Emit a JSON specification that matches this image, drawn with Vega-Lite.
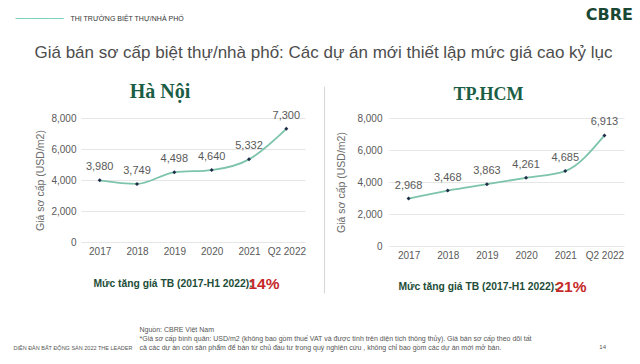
{
  "$schema": "https://vega.github.io/schema/vega-lite/v6.json",
  "background": "white",
  "padding": {"left": 13, "top": 6, "right": 5, "bottom": 0},
  "config": {
    "font": "Liberation Sans",
    "view": {"stroke": null},
    "axis": {"labelFont": "Liberation Sans", "titleFont": "Liberation Sans"}
  },
  "title": {"text": "DIỄN ĐÀN BẤT ĐỘNG SẢN 2022 THE LEADER", "orient": "bottom", "anchor": "start", "frame": "bounds", "fontSize": 5.5, "fontWeight": "normal", "color": "#555555", "dx": -2, "offset": -5},
  "vconcat": [{
    "title": {"text": "14", "orient": "bottom", "anchor": "end", "frame": "bounds", "fontSize": 6, "fontWeight": "normal", "color": "#555555", "dx": -27, "offset": -7},
    "vconcat": [{
      "title": {"text": ["Nguồn: CBRE Việt Nam", "*Giá sơ cấp bình quân: USD/m2 (không bao gồm thuế VAT và được tính trên diện tích thông thủy). Giá bán sơ cấp theo dõi tất", "cả các dự án còn sản phẩm để bán từ chủ đầu tư trong quý nghiên cứu , không chỉ bao gồm các dự án mới mở bán."], "orient": "bottom", "anchor": "start", "frame": "bounds", "fontSize": 7, "lineHeight": 9.2, "fontWeight": "normal", "color": "#555555", "dx": 124, "offset": 1},
      "vconcat": [{
        "title": {"text": "CBRE", "orient": "top", "anchor": "end", "frame": "bounds", "font": "DejaVu Sans", "fontSize": 16, "fontWeight": "bold", "color": "#1a4734", "dx": 9, "offset": -8},
        "vconcat": [{
          "title": {"text": "THỊ TRƯỜNG BIỆT THỰ/NHÀ PHỐ", "orient": "top", "anchor": "start", "frame": "bounds", "fontSize": 7, "fontWeight": "normal", "color": "#333333", "dx": 55, "offset": -7},
          "vconcat": [{
            "title": {"text": "──────────", "orient": "top", "anchor": "start", "frame": "bounds", "font": "DejaVu Sans", "fontSize": 8, "fontWeight": "normal", "color": "#49c3a5", "dx": -19, "offset": 21},
            "vconcat": [{
              "title": {"text": "Giá bán sơ cấp biệt thự/nhà phố: Các dự án mới thiết lập mức giá cao kỷ lục", "orient": "top", "anchor": "middle", "frame": "bounds", "fontSize": 17, "fontWeight": "normal", "color": "#4d4d4d", "dx": -6.5, "offset": 20},
              "spacing": 18,
              "hconcat": [
                {
                  "width": 224,
                  "height": 124,
                  "title": {"text": "Hà Nội", "font": "Liberation Serif", "fontSize": 20, "fontWeight": "bold", "color": "#1b5e45", "anchor": "middle", "frame": "group", "dx": -33, "offset": 8},
                  "data": {"values": [
                    {"period": "2017", "price": 3980},
                    {"period": "2018", "price": 3749},
                    {"period": "2019", "price": 4498},
                    {"period": "2020", "price": 4640},
                    {"period": "2021", "price": 5332},
                    {"period": "Q2 2022", "price": 7300}
                  ]},
                  "layer": [
                    {
                      "mark": {"type": "line", "interpolate": "monotone", "color": "#7dc4ab", "strokeWidth": 1.8},
                      "encoding": {
                        "x": {"field": "period", "type": "ordinal", "sort": null, "axis": {"orient": "bottom", "domain": false, "ticks": false, "grid": false, "labelAngle": 0, "labelColor": "#595959", "labelFontSize": 10, "labelPadding": 4, "title": "Mức tăng giá TB (2017-H1 2022):", "titleColor": "#1d4d38", "titleFontSize": 10.3, "titleFontWeight": "bold", "titleX": 12, "titleY": 41, "titleAlign": "left", "titleBaseline": "middle", "titleAnchor": null}},
                        "y": {"field": "price", "type": "quantitative", "scale": {"domain": [0, 8000]}, "axis": {"values": [0, 2000, 4000, 6000, 8000], "format": ",.0f", "labelOverlap": false, "domain": false, "ticks": false, "gridColor": "#e6e6e6", "labelColor": "#595959", "labelFontSize": 10, "labelPadding": 5, "title": "Giá sơ cấp (USD/m2)", "titleColor": "#6b6b6b", "titleFontSize": 10.5, "titleFontWeight": "normal", "titlePadding": 5}}
                      }
                    },
                    {
                      "mark": {"type": "point", "shape": "diamond", "filled": true, "color": "#1f2d4a", "size": 16, "opacity": 1},
                      "encoding": {
                        "x": {"field": "period", "type": "ordinal", "sort": null, "axis": null},
                        "y": {"field": "price", "type": "quantitative", "scale": {"domain": [0, 8000]}, "axis": null}
                      }
                    },
                    {
                      "mark": {"type": "text", "dy": -13, "fontSize": 11, "color": "#595959"},
                      "encoding": {
                        "x": {"field": "period", "type": "ordinal", "sort": null, "axis": {"orient": "bottom", "labels": false, "ticks": false, "domain": false, "grid": false, "title": "14%", "titleColor": "#c62828", "titleFontSize": 15.5, "titleFontWeight": "bold", "titleX": 167, "titleY": 41, "titleAlign": "left", "titleBaseline": "middle", "titleAnchor": null}},
                        "y": {"field": "price", "type": "quantitative", "scale": {"domain": [0, 8000]}, "axis": null},
                        "text": {"field": "price", "type": "quantitative", "format": ","}
                      }
                    }
                  ],
                  "resolve": {"scale": {"x": "independent", "y": "independent"}, "axis": {"x": "independent", "y": "independent"}}
                },
                {
                  "width": 235,
                  "height": 128,
                  "title": {"text": "TP.HCM", "font": "Liberation Serif", "fontSize": 18, "fontWeight": "bold", "color": "#1b5e45", "anchor": "middle", "frame": "group", "dx": -18, "offset": 7},
                  "data": {"values": [
                    {"period": "2017", "price": 2968},
                    {"period": "2018", "price": 3468},
                    {"period": "2019", "price": 3863},
                    {"period": "2020", "price": 4261},
                    {"period": "2021", "price": 4685},
                    {"period": "Q2 2022", "price": 6913}
                  ]},
                  "layer": [
                    {
                      "mark": {"type": "line", "interpolate": "monotone", "color": "#7dc4ab", "strokeWidth": 1.8},
                      "encoding": {
                        "x": {"field": "period", "type": "ordinal", "sort": null, "axis": {"orient": "bottom", "domain": false, "ticks": false, "grid": false, "labelAngle": 0, "labelColor": "#595959", "labelFontSize": 10, "labelPadding": 4, "title": "Mức tăng giá TB (2017-H1 2022):", "titleColor": "#1d4d38", "titleFontSize": 10.3, "titleFontWeight": "bold", "titleX": 9, "titleY": 40, "titleAlign": "left", "titleBaseline": "middle", "titleAnchor": null}},
                        "y": {"field": "price", "type": "quantitative", "scale": {"domain": [0, 8000]}, "axis": {"values": [0, 2000, 4000, 6000, 8000], "format": ",.0f", "labelOverlap": false, "domain": false, "ticks": false, "gridColor": "#e6e6e6", "labelColor": "#595959", "labelFontSize": 10, "labelPadding": 7, "title": "Giá sơ cấp (USD/m2)", "titleColor": "#6b6b6b", "titleFontSize": 10.5, "titleFontWeight": "normal", "titlePadding": 10}}
                      }
                    },
                    {
                      "mark": {"type": "point", "shape": "diamond", "filled": true, "color": "#1f2d4a", "size": 16, "opacity": 1},
                      "encoding": {
                        "x": {"field": "period", "type": "ordinal", "sort": null, "axis": null},
                        "y": {"field": "price", "type": "quantitative", "scale": {"domain": [0, 8000]}, "axis": null}
                      }
                    },
                    {
                      "mark": {"type": "text", "dy": -13, "fontSize": 11, "color": "#595959"},
                      "encoding": {
                        "x": {"field": "period", "type": "ordinal", "sort": null, "axis": {"orient": "bottom", "labels": false, "ticks": false, "domain": false, "grid": false, "title": "21%", "titleColor": "#c62828", "titleFontSize": 15.5, "titleFontWeight": "bold", "titleX": 166, "titleY": 40, "titleAlign": "left", "titleBaseline": "middle", "titleAnchor": null}},
                        "y": {"field": "price", "type": "quantitative", "scale": {"domain": [0, 8000]}, "axis": null},
                        "text": {"field": "price", "type": "quantitative", "format": ","}
                      }
                    },
                    {
                      "mark": {"type": "point", "opacity": 0},
                      "encoding": {
                        "y": {"field": "price", "type": "quantitative", "scale": {"domain": [0, 8000], "range": [175, -32]}, "axis": {"orient": "left", "offset": 65, "domain": true, "domainColor": "#d9d9d9", "domainWidth": 1.2, "labels": false, "ticks": false, "grid": false, "title": null}}
                      }
                    }
                  ],
                  "resolve": {"scale": {"x": "independent", "y": "independent"}, "axis": {"x": "independent", "y": "independent"}}
                }
              ]
            }]
          }]
        }]
      }]
    }]
  }]
}
